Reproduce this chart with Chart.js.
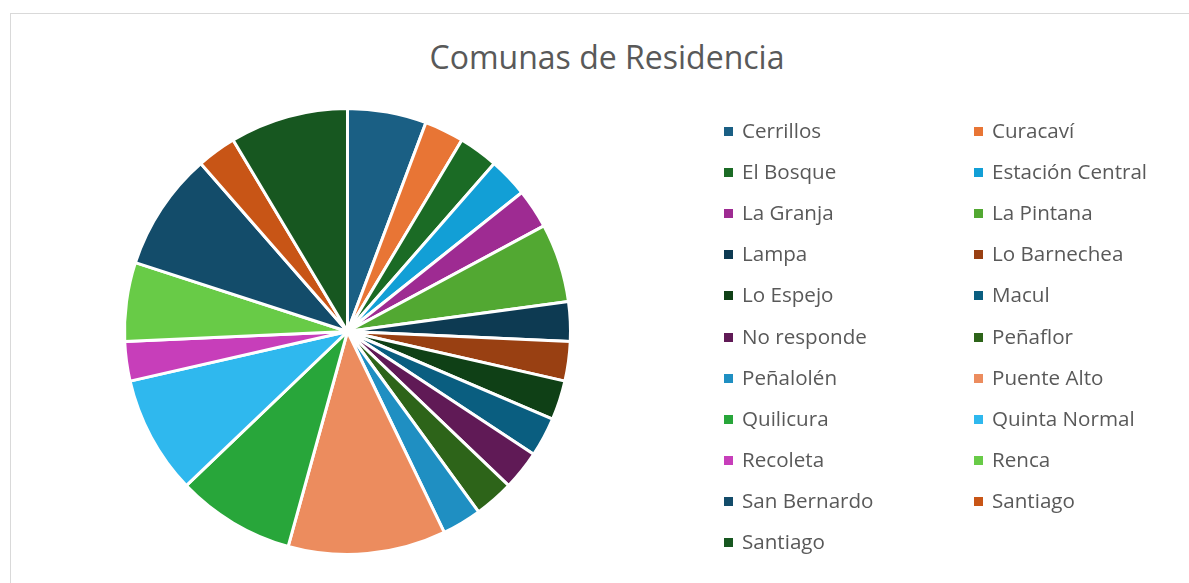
<!DOCTYPE html>
<html>
<head>
<meta charset="utf-8">
<script src="https://cdn.jsdelivr.net/npm/chart.js@4/dist/chart.umd.min.js"></script>
<style>
  html, body { margin: 0; padding: 0; background: #fff; overflow: hidden; }
  #wrap { position: relative; width: 1189px; height: 583px; }
  #frame { position: absolute; left: 10px; top: 13px; width: 1300px; height: 700px; border: 1.5px solid #d9d9d9; box-sizing: border-box; }
  #title { position: absolute; left: 0; width: 1214px; top: 35px; text-align: center; font-family: "Open Sans", sans-serif; font-size: 32px; color: #595959; line-height: 44px; }
  canvas { position: absolute; left: 0; top: 0; }
  .item { position: absolute; font-family: "Open Sans", sans-serif; font-size: 20.6px; color: #595959; line-height: 24px; white-space: nowrap; }
  .item span { display: inline-block; width: 9px; height: 9px; margin-right: 9px; vertical-align: 2px; }
</style>
</head>
<body>
<div id="wrap">
  <div id="frame"></div>
  <div id="title">Comunas de Residencia</div>
  <canvas id="pie" width="1189" height="583"></canvas>
  <div id="legend"></div>
</div>
<script>
var comunas = ['Cerrillos', 'Curacaví', 'El Bosque', 'Estación Central', 'La Granja', 'La Pintana',
    'Lampa', 'Lo Barnechea', 'Lo Espejo', 'Macul', 'No responde', 'Peñaflor', 'Peñalolén',
    'Puente Alto', 'Quilicura', 'Quinta Normal', 'Recoleta', 'Renca', 'San Bernardo', 'Santiago', 'Santiago'];
var personas = [2, 1, 1, 1, 1, 2, 1, 1, 1, 1, 1, 1, 1, 4, 3, 3, 1, 2, 3, 1, 3];
var colores = ['#1a5f84', '#e87535', '#1b6b25', '#129fd6', '#9e2b92', '#52a832',
    '#0d3a52', '#994012', '#0f4016', '#0a5e80', '#601a56', '#2d6419', '#1f8fc2',
    '#ec8c5e', '#28a63a', '#2fb8ee', '#c73eba', '#68cb47', '#134c6a', '#c85516', '#175720'];

// leyenda en dos columnas
var legend = document.getElementById('legend');
for (var i = 0; i < comunas.length; i++) {
    var d = document.createElement('div');
    d.className = 'item';
    d.style.left = (i % 2 == 0 ? 724 : 974) + 'px';
    d.style.top = (130 + Math.floor(i / 2) * 41.1 - 12) + 'px';
    d.innerHTML = '<span style="background:' + colores[i] + '"></span>' + comunas[i];
    legend.appendChild(d);
}

new Chart(document.getElementById('pie'), {
    type: 'pie',
    data: {
        labels: comunas,
        datasets: [{
            data: personas,
            backgroundColor: colores,
            borderColor: '#ffffff',
            borderWidth: 3
        }]
    },
    options: {
        responsive: false,
        animation: false,
        layout: { padding: { left: 123, right: 617, top: 107, bottom: 27 } },
        plugins: {
            legend: { display: false },
            tooltip: { enabled: false }
        }
    }
});
</script>
</body>
</html>
